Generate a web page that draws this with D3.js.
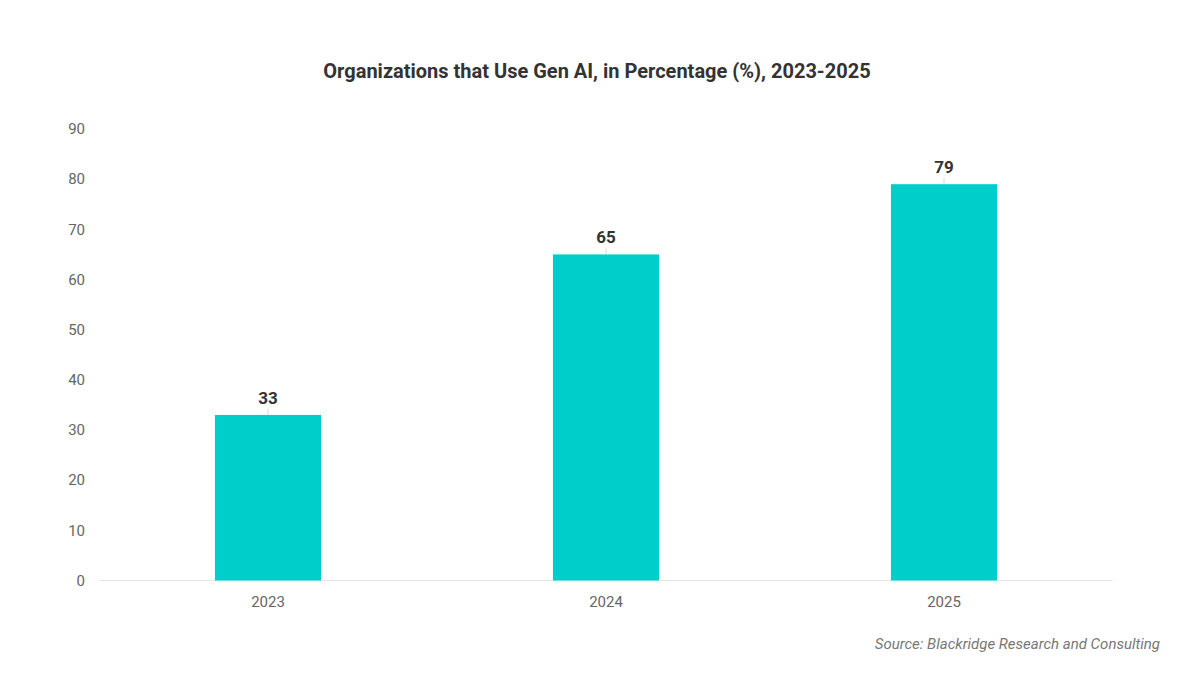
<!DOCTYPE html>
<html>
<head>
<meta charset="utf-8">
<script src="https://cdn.jsdelivr.net/npm/d3@7"></script>
<style>
  body { margin: 0; background: #fff; }
  text { font-family: Roboto, "Noto Sans", sans-serif; }
</style>
</head>
<body>
<div id="chart"></div>
<script>
const years = ["2023", "2024", "2025"];
const values = [33, 65, 79];
const yTicks = [0, 10, 20, 30, 40, 50, 60, 70, 80, 90];

const width = 1200, height = 675;
const margin = { top: 129, right: 87, bottom: 95, left: 99 };

const svg = d3.select("#chart").append("svg")
  .attr("width", width)
  .attr("height", height);

svg.append("text")
  .attr("x", 597)
  .attr("y", 78)
  .attr("text-anchor", "middle")
  .attr("font-size", 20)
  .attr("font-weight", 700)
  .attr("fill", "#333")
  .text("Organizations that Use Gen AI, in Percentage (%), 2023-2025");

const x = d3.scaleBand()
  .domain(years)
  .range([margin.left, width - margin.right])
  .paddingInner(0.686)
  .paddingOuter(0.343);

const y = d3.scaleLinear()
  .domain([0, 90])
  .range([height - margin.bottom + 0.5, margin.top]);

// y tick labels
svg.append("g")
  .selectAll("text")
  .data(yTicks)
  .enter()
  .append("text")
  .attr("x", 85)
  .attr("y", d => y(d))
  .attr("dy", "0.35em")
  .attr("text-anchor", "end")
  .attr("font-size", 15)
  .attr("fill", "#666")
  .text(d => d);

// baseline
svg.append("line")
  .attr("x1", margin.left)
  .attr("x2", width - margin.right)
  .attr("y1", y(0))
  .attr("y2", y(0))
  .attr("stroke", "#e6e6e6")
  .attr("stroke-width", 1);

// bars
svg.append("g")
  .selectAll("rect")
  .data(values)
  .enter()
  .append("rect")
  .attr("x", (d, i) => x(years[i]))
  .attr("y", d => y(d))
  .attr("width", x.bandwidth())
  .attr("height", d => y(0) - y(d))
  .attr("fill", "#00cecb");

// connector ticks
svg.append("g")
  .selectAll("line")
  .data(values)
  .enter()
  .append("line")
  .attr("x1", (d, i) => x(years[i]) + x.bandwidth() / 2)
  .attr("x2", (d, i) => x(years[i]) + x.bandwidth() / 2)
  .attr("y1", d => y(d) - 6)
  .attr("y2", d => y(d))
  .attr("stroke", "#ccc")
  .attr("stroke-width", 0.8);

// value labels
svg.append("g")
  .selectAll("text")
  .data(values)
  .enter()
  .append("text")
  .attr("x", (d, i) => x(years[i]) + x.bandwidth() / 2)
  .attr("y", d => y(d) - 11)
  .attr("text-anchor", "middle")
  .attr("font-size", 17)
  .attr("font-weight", 700)
  .attr("fill", "#333")
  .text(d => d);

// x labels
svg.append("g")
  .selectAll("text")
  .data(years)
  .enter()
  .append("text")
  .attr("x", d => x(d) + x.bandwidth() / 2)
  .attr("y", y(0) + 26)
  .attr("text-anchor", "middle")
  .attr("font-size", 15)
  .attr("fill", "#666")
  .text(d => d);

svg.append("text")
  .attr("x", 1160)
  .attr("y", 649)
  .attr("text-anchor", "end")
  .attr("font-size", 15)
  .attr("font-style", "italic")
  .attr("fill", "#777")
  .text("Source: Blackridge Research and Consulting");
</script>
</body>
</html>
